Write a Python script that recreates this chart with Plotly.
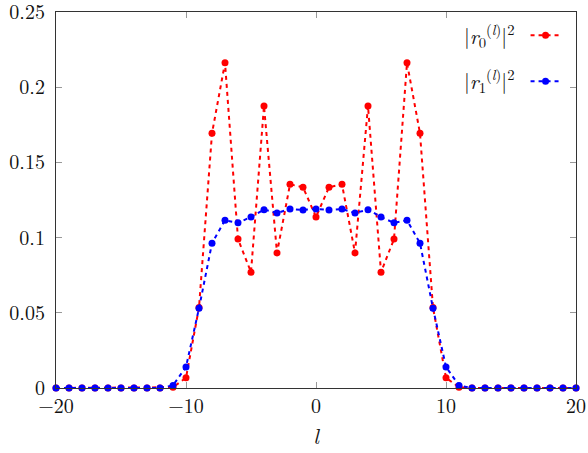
import plotly.graph_objects as go

l_vals = list(range(-20, 21))
r0_sq = [0]*9 + [0.0005, 0.0068, 0.0535, 0.1693, 0.2162, 0.099, 0.077, 0.1875, 0.0898, 0.1354, 0.1335,
                 0.1137,
                 0.1335, 0.1354, 0.0898, 0.1875, 0.077, 0.099, 0.2162, 0.1693, 0.0535, 0.0068, 0.0005] + [0]*9
r1_sq = [0]*9 + [0.0017, 0.014, 0.053, 0.0963, 0.1115, 0.1098, 0.1137, 0.1186, 0.1164, 0.119, 0.1184,
                 0.119,
                 0.1184, 0.119, 0.1164, 0.1186, 0.1137, 0.1098, 0.1115, 0.0963, 0.053, 0.014, 0.0017] + [0]*9

y_ticks = [0, 0.05, 0.1, 0.15, 0.2, 0.25]
y_ticktext = ["0", "0.05", "0.1", "0.15", "0.2", "0.25"]
x_ticks = [-20, -10, 0, 10, 20]
x_ticktext = ["\u221220", "\u221210", "0", "10", "20"]
labels = ["|<i>r</i><sub>0</sub><sup>(<i>l</i>)</sup>|<sup>2</sup>",
          "|<i>r</i><sub>1</sub><sup>(<i>l</i>)</sup>|<sup>2</sup>"]

FONT = "Latin Modern Roman"
fig = go.Figure()
for ys, col, grp in [(r0_sq, "#ff0000", "a"), (r1_sq, "#0000ff", "b")]:
    fig.add_trace(go.Scatter(
        x=l_vals, y=ys, mode="lines+markers", name="", legendgroup=grp,
        line=dict(color=col, width=2, dash="4px,4px"),
        marker=dict(color=col, size=7, symbol="circle"),
        cliponaxis=False,
    ))

axis_common = dict(showgrid=False, zeroline=False, showline=True, linecolor="#333333", linewidth=1.2,
                   mirror="ticks", ticks="inside", ticklen=6, tickcolor="#999999",
                   ticklabeloverflow="allow",
                   tickfont=dict(family=FONT, size=20, color="#111111"))
fig.update_xaxes(range=[-20, 20], tickvals=x_ticks, ticktext=x_ticktext,
                 title=dict(text="<i>l</i>", font=dict(family=FONT, size=22, color="#111111"), standoff=8),
                 **axis_common)
fig.update_yaxes(range=[0, 0.25], tickvals=y_ticks, ticktext=y_ticktext, ticklabelstandoff=6, **axis_common)

for i, lab in enumerate(labels):
    fig.add_annotation(x=0.885, y=(0.94 if i == 0 else 0.82), xref="paper", yref="paper",
                       text=lab, showarrow=False, xanchor="right", yanchor="middle",
                       font=dict(family=FONT, size=21, color="#111111"))

fig.update_layout(
    width=588, height=453,
    font=dict(family=FONT, size=20, color="#111111"),
    margin=dict(l=56, r=12, t=12, b=65, autoexpand=False),
    paper_bgcolor="white", plot_bgcolor="white",
    showlegend=True,
    legend=dict(x=0.903, y=0.99, xanchor="left", yanchor="top", bgcolor="rgba(0,0,0,0)",
                traceorder="grouped", tracegroupgap=17, itemwidth=30,
                font=dict(family=FONT, size=20)),
)
fig.write_html("out.html")
